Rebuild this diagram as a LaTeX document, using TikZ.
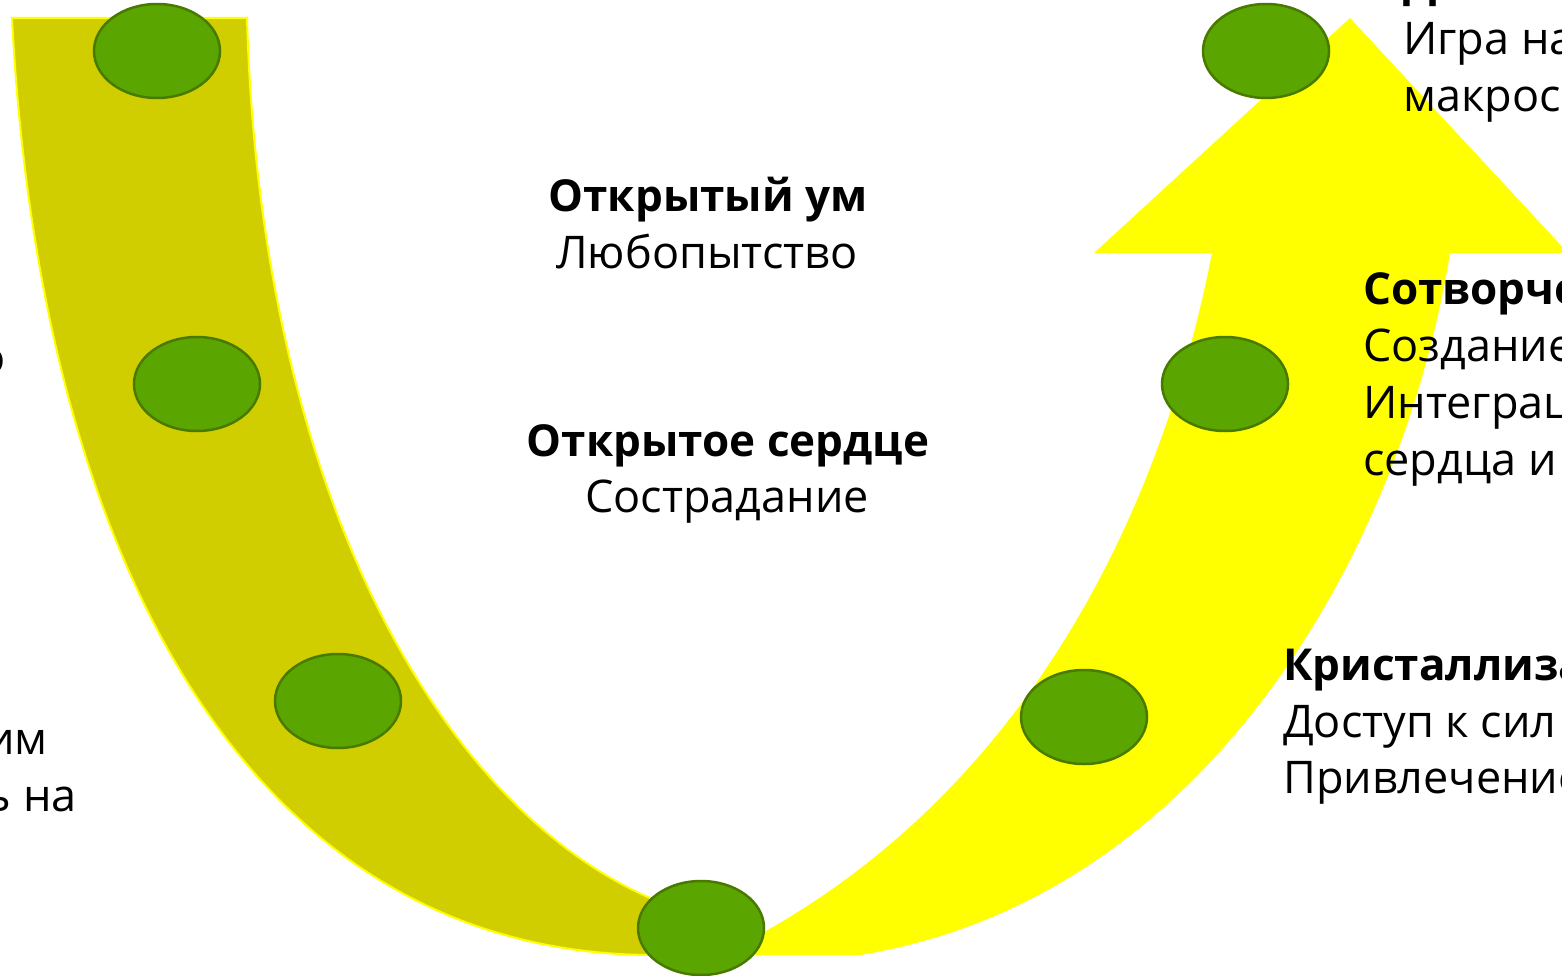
\documentclass[tikz,border=0pt]{standalone}
\usepackage{fontspec}
\setmainfont{Open Sans}
\usepackage{tikz}
\usetikzlibrary{shapes.geometric}
\definecolor{bandolive}{RGB}{208,206,0}
\definecolor{bandyellow}{RGB}{255,255,0}
\definecolor{dotgreen}{RGB}{91,165,0}
\definecolor{dotedge}{RGB}{72,122,0}
\tikzstyle{dot}=[draw=dotedge,fill=dotgreen,ellipse,line width=2.5pt,minimum width=126pt,minimum height=94pt,inner sep=0pt]
\tikzstyle{txt}=[font=\fontsize{45}{57}\selectfont,anchor=base,inner sep=0pt]
\tikzstyle{title}=[txt,font=\fontsize{44}{57}\selectfont\bfseries]

\begin{document}
\begin{tikzpicture}[x=1pt,y=-1pt]
\useasboundingbox (0,0) rectangle (1562,976);
% left band (going down)
\draw[fill=bandolive,draw=bandyellow,line width=2pt] (12,18) -- (247,18)
  .. controls (260,490) and (440,815) .. (662,903) -- (655,955)
  .. controls (250,955) and (40,560) .. (12,18) -- cycle;
% right band with arrow head (going up)
\fill[bandyellow] (700,955) -- (860,955)
  .. controls (1200,900) and (1400,560) .. (1450,253) -- (1568,253)
  -- (1350,18) -- (1094,253) -- (1212,253)
  .. controls (1160,520) and (1020,800) .. (740,945) -- cycle;
% stages
\node [dot] (l1) at (157,51) {};
\node [dot] (l2) at (197,384) {};
\node [dot] (l3) at (338,701) {};
\node [dot] (b) at (701,928) {};
\node [dot] (r3) at (1084,717) {};
\node [dot] (r2) at (1225,384) {};
\node [dot] (r1) at (1266,51) {};
% middle texts
\node [title] (mind) at (708,212) {Открытый ум};
\node [txt] (curio) at (707,269) {Любопытство};
\node [title] (heart) at (728,456) {Открытое сердце};
\node [txt] (compas) at (727,512) {Сострадание};
% left texts, cut by the edge
\node [txt,anchor=base east] (lefta) at (6,373) {о};
\node [txt,anchor=base east] (leftb) at (48,754) {им};
\node [txt,anchor=base east] (leftc) at (77,811) {ь на};
% right texts, cut by the edge
\node [title,anchor=base west] (topa) at (1403,-2) {Д};
\node [txt,anchor=base west] (topb) at (1403,55) {Игра на};
\node [txt,anchor=base west] (topc) at (1403,112) {макрос};
\node [title,anchor=base west] (cocr) at (1363,304) {Сотворче};
\node [txt,anchor=base west] (cocra) at (1363,361) {Создание};
\node [txt,anchor=base west] (cocrb) at (1363,418) {Интеграц};
\node [txt,anchor=base west] (cocrc) at (1363,475) {сердца и};
\node [title,anchor=base west] (cryst) at (1283,680) {Кристаллиза};
\node [txt,anchor=base west] (crysta) at (1283,737) {Доступ к сил};
\node [txt,anchor=base west] (crystb) at (1283,793) {Привлечение};
\end{tikzpicture}
\end{document}
